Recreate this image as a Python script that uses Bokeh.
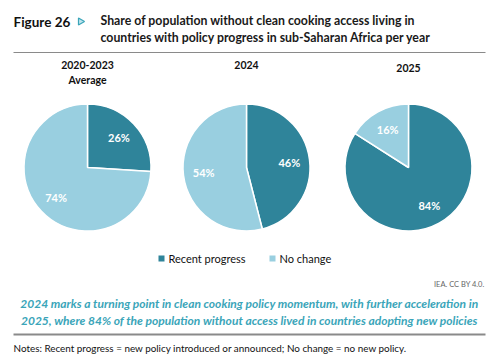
import numpy as np
from bokeh.plotting import figure
from bokeh.models import Range1d
from bokeh.core.properties import value
from bokeh.embed import file_html
from bokeh.resources import INLINE

# ---- data ----
periods = ["2020-2023", "2024", "2025"]
period_sub = ["Average", "", ""]
series = ["Recent progress", "No change"]
recent_progress = [26, 46, 84]
no_change = [74, 54, 16]

title_lines = ["Share of population without clean cooking access living in",
               "countries with policy progress in sub-Saharan Africa per year"]
message_lines = ["2024 marks a turning point in clean cooking policy momentum, with further acceleration in",
                 "2025, where 84% of the population without access lived in countries adopting new policies"]
note = "Notes: Recent progress = new policy introduced or announced; No change = no new policy."
credit = "IEA. CC BY 4.0."

# ---- style ----
colors = ["#2f849a", "#99cfe0"]
teal_text = "#3aa5b9"
W, H = 493, 363

p = figure(width=W, height=H, x_range=Range1d(0, W), y_range=Range1d(0, H),
           output_backend="svg", toolbar_location=None, min_border=0,
           x_axis_location=None, y_axis_location=None)
p.grid.visible = False
p.outline_line_color = None
p.background_fill_color = "white"
p.border_fill_color = "white"


def Y(v):
    return H - v


# header
p.text(x=[13], y=[Y(21)], text=["Figure 26"], text_font=value("Lato"), text_font_style="bold",
       text_font_size="13.5px", text_color="#111111", text_baseline="middle")
p.scatter(x=[80], y=[Y(21)], marker="triangle", angle=-np.pi / 2, size=7,
          fill_color="#bfe3ec", line_color="#3aa5b9", line_width=1.2)
p.text(x=[100, 100], y=[Y(20), Y(37)], text=title_lines, text_font=value("Lato"),
       text_font_style="bold", text_font_size="12.3px", text_color="#1a1a1a",
       text_baseline="middle")
p.line(x=[13, 485], y=[Y(52), Y(52)], line_color="#8a8a8a", line_width=1.2)

# pies
centers_x = [87, 246, 408]
cy = Y(167)
R = 63.5
label_r = 0.68 * R
for i in range(len(periods)):
    vals = [recent_progress[i], no_change[i]]
    total = float(sum(vals))
    cum = np.cumsum([0] + vals) / total
    starts = [np.pi / 2 - 2 * np.pi * cum[k + 1] for k in range(2)]
    ends = [np.pi / 2 - 2 * np.pi * cum[k] for k in range(2)]
    p.wedge(x=[centers_x[i]] * 2, y=[cy] * 2, radius=R, start_angle=starts, end_angle=ends,
            fill_color=colors, line_color="white", line_width=1.5)
    mids = [np.pi / 2 - 2 * np.pi * (cum[k] + cum[k + 1]) / 2 for k in range(2)]
    lx = [centers_x[i] + label_r * np.cos(a) for a in mids]
    ly = [cy + label_r * np.sin(a) for a in mids]
    p.text(x=lx, y=ly, text=[f"{v}%" for v in vals], text_font=value("Lato"),
           text_font_style="bold", text_font_size="11px", text_color="white",
           text_align="center", text_baseline="middle")

# column headings
head_y = [64, 64, 67]
p.text(x=centers_x, y=[Y(v) for v in head_y], text=periods, text_font=value("Lato"),
       text_font_style="bold", text_font_size="10.5px", text_color="#111111",
       text_align="center", text_baseline="middle")
p.text(x=[centers_x[0]], y=[Y(79)], text=[period_sub[0]], text_font=value("Lato"),
       text_font_style="bold", text_font_size="10.5px", text_color="#111111",
       text_align="center", text_baseline="middle")

# legend
leg_x = [161, 272]
p.scatter(x=leg_x, y=[Y(258)] * 2, marker="square", size=6, fill_color=colors, line_color=None)
p.text(x=[x + 7 for x in leg_x], y=[Y(258)] * 2, text=series, text_font=value("Lato"),
       text_font_size="11px", text_color="#111111", text_baseline="middle")

# credit
p.text(x=[484], y=[Y(284)], text=[credit], text_font=value("Lato"), text_font_size="7.5px",
       text_color="#666666", text_align="right", text_baseline="middle")

# message
p.text(x=[249, 249], y=[Y(303), Y(320)], text=message_lines, text_font=value("Lato"),
       text_font_style="bold italic", text_font_size="12px", text_color=teal_text,
       text_align="center", text_baseline="middle")
p.line(x=[13, 485], y=[Y(334), Y(334)], line_color="#8a8a8a", line_width=2)

# note
p.text(x=[13], y=[Y(347)], text=[note], text_font=value("Lato"), text_font_size="9.9px",
       text_color="#111111", text_baseline="middle")

open("out.html", "w").write(file_html(p, INLINE))
